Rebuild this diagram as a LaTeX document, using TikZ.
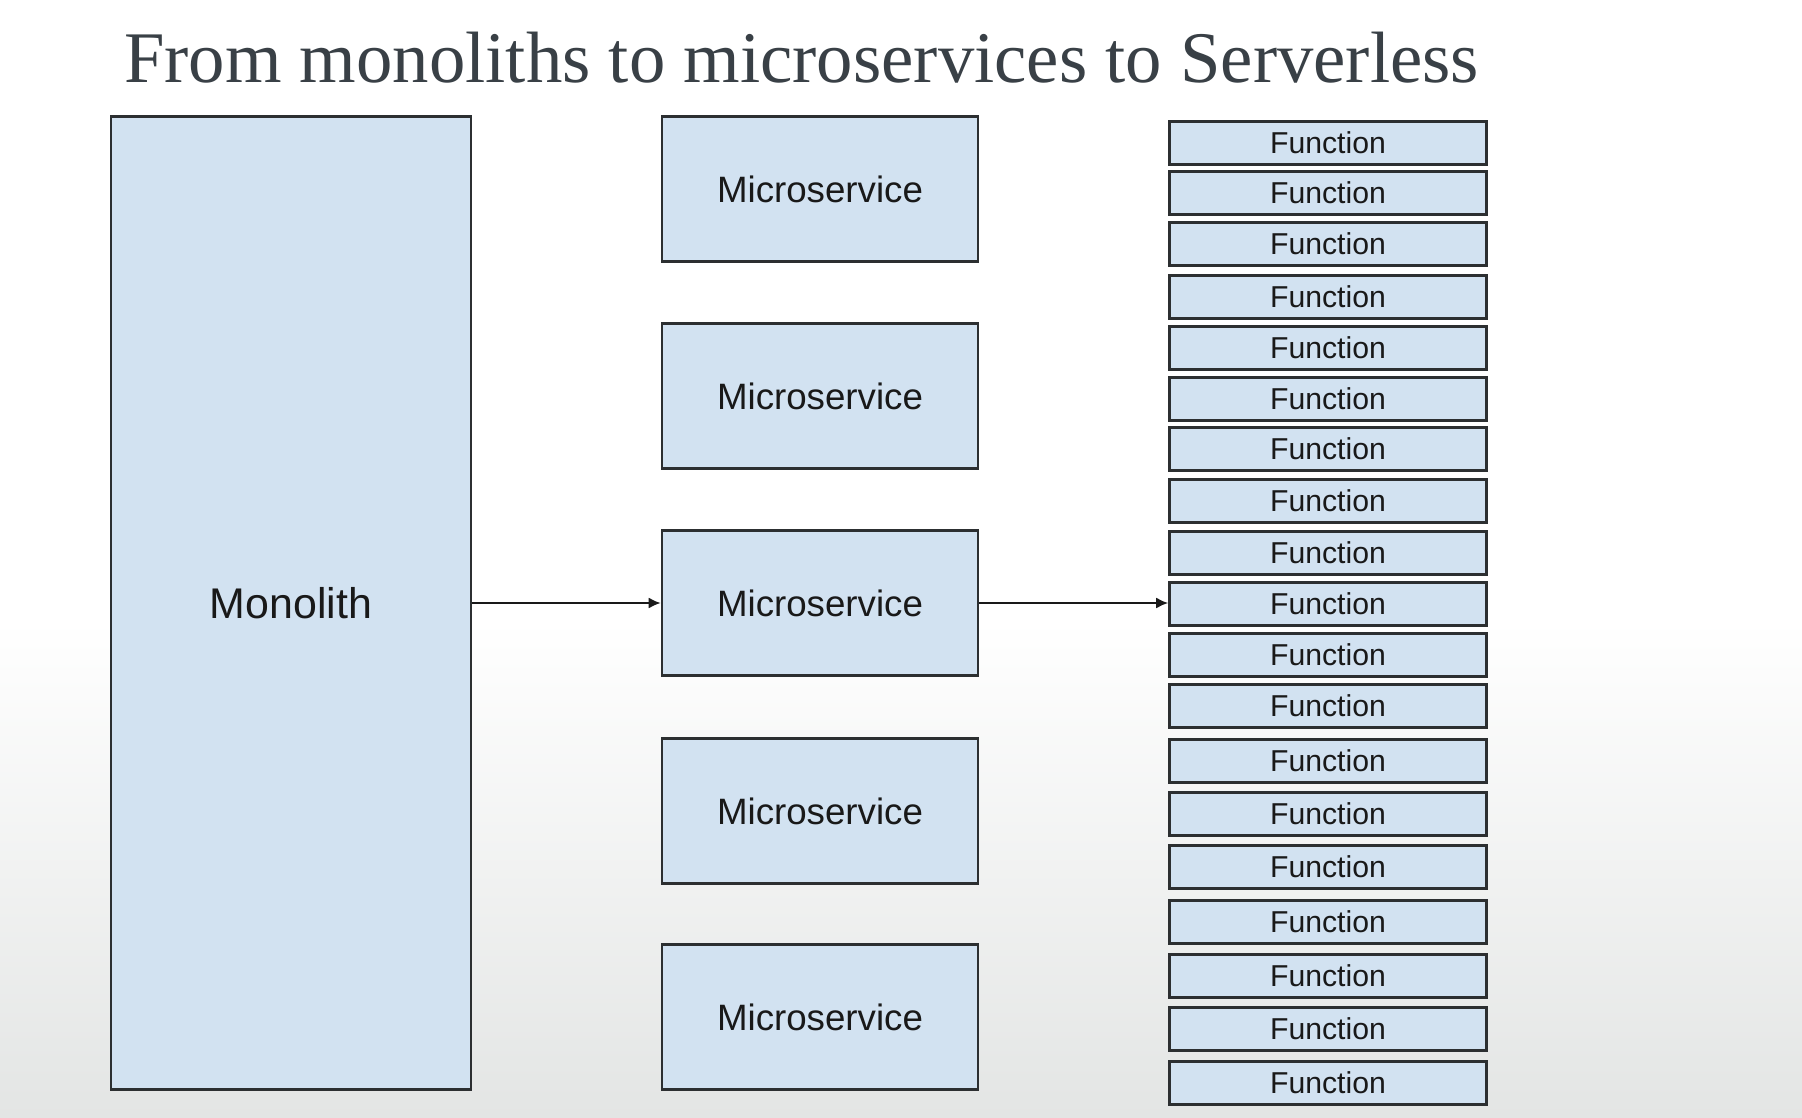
\documentclass[tikz,border=0pt]{standalone}
\usepackage{fontspec}
\setmainfont{Liberation Serif}
\newfontfamily\boxfont{Liberation Sans}
\usetikzlibrary{arrows.meta,positioning}
\definecolor{boxblue}{HTML}{D2E2F1}
\definecolor{boxline}{HTML}{2C2F31}
\definecolor{titlegray}{HTML}{394046}
\definecolor{bggray}{HTML}{E3E5E4}
\tikzset{
  block/.style={draw=boxline, fill=boxblue, line width=2.6pt, inner sep=0pt, text=black!90},
  monobox/.style={block, minimum width=360pt, minimum height=973pt,
    font=\boxfont\fontsize{42.9pt}{46pt}\selectfont},
  msbox/.style={block, minimum width=316pt, minimum height=145pt,
    font=\boxfont\fontsize{36.7pt}{40pt}\selectfont},
  fnbox/.style={block, minimum width=317pt, minimum height=43pt,
    font=\boxfont\fontsize{30.2pt}{32pt}\selectfont},
  link/.style={->, line width=2pt, draw=black!90}
}

\begin{document}
\begin{tikzpicture}[x=1pt, y=-1pt, >={Latex[length=12pt,width=11pt]}]
  \useasboundingbox (0,0) rectangle (1802,1118);
  % background
  \fill[white] (0,0) rectangle (1802,1118);
  \shade[top color=white, bottom color=bggray] (0,620) rectangle (1802,1118);
  % title
  \node[anchor=base west, inner sep=0pt, text=titlegray,
        font=\fontsize{72.7pt}{80pt}\selectfont] (title) at (124,83)
        {From monoliths to microservices to Serverless};
  % monolith
  \node[monobox] (mono) at (291,603) {Monolith};
  % microservices
  \foreach \yc [count=\i] in {189,396,603,811,1017}
    \node[msbox] (ms\i) at (820,\yc) {Microservice};
  % functions
  \foreach \yc [count=\i] in {143,193,244,297,348,399,449,501,553,604,655,706,761,814,867,922,976,1029,1083}
    \node[fnbox] (fn\i) at (1328,\yc) {Function};
  % arrows
  \draw[link] (mono) -- (ms3);
  \draw[link] (ms3) -- (ms3 -| fn10.west);
\end{tikzpicture}
\end{document}
